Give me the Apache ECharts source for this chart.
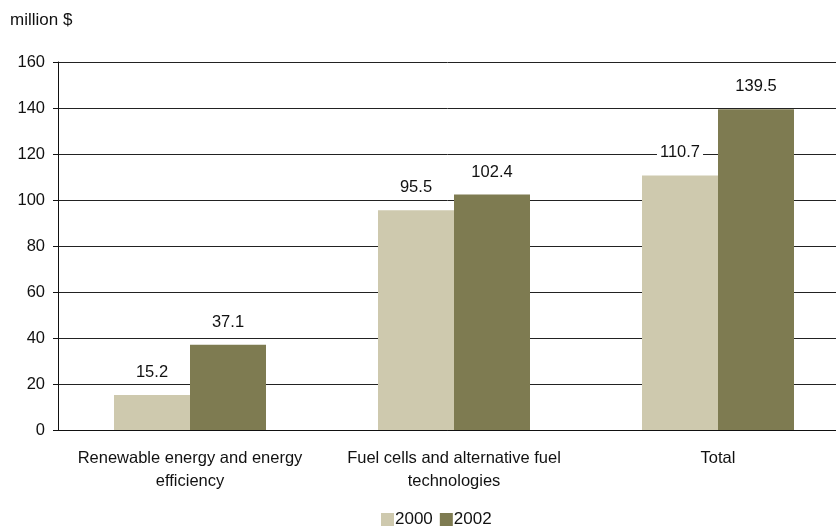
<!DOCTYPE html>
<html>
<head>
<meta charset="utf-8">
<script src="https://cdn.jsdelivr.net/npm/echarts@6/dist/echarts.min.js"></script>
<style>
  html, body { margin: 0; padding: 0; background: #fff; }
  #chart { width: 836px; height: 529px; }
</style>
</head>
<body>
<div id="chart"></div>
<script>
// Spending by program area, million $
const categories = [
  'Renewable energy and energy\nefficiency',
  'Fuel cells and alternative fuel\ntechnologies',
  'Total'
];
const values2000 = [15.2, 95.5, 110.7];
const values2002 = [37.1, 102.4, 139.5];
const yTicks = { min: 0, max: 160, interval: 20 };

const FONT = '"Liberation Sans", Arial, sans-serif';

const labelStyle = {
  show: true,
  position: 'top',
  distance: 12,
  color: '#111',
  fontFamily: FONT,
  fontSize: 16.5,
  backgroundColor: '#fff',
  padding: [2, 3],
  formatter: p => p.value.toFixed(1)
};

const chart = echarts.init(document.getElementById('chart'), null, { renderer: 'canvas' });
chart.setOption({
  animation: false,
  backgroundColor: '#fff',
  textStyle: { fontFamily: FONT },
  title: {
    text: 'million $',
    left: 10,
    top: 12,
    padding: 0,
    textStyle: { fontFamily: FONT, fontSize: 17, fontWeight: 'normal', color: '#111' }
  },
  // the plot runs a little past the right edge of the canvas
  grid: { left: 58, top: 62, width: 792, bottom: 99, containLabel: false, outerBoundsMode: 'none' },
  legend: {
    top: 511,
    left: 381,
    padding: 0,
    itemWidth: 13,
    itemHeight: 13,
    itemGap: 7,
    icon: 'rect',
    textStyle: { fontFamily: FONT, fontSize: 17, color: '#111', padding: [0, 0, 0, -4] },
    data: ['2000', '2002']
  },
  xAxis: {
    type: 'category',
    data: categories,
    axisLine: { lineStyle: { color: '#111', width: 1 } },
    axisTick: { show: false },
    axisLabel: {
      color: '#111',
      fontFamily: FONT,
      fontSize: 16.5,
      lineHeight: 23,
      margin: 17,
      interval: 0
    }
  },
  yAxis: {
    type: 'value',
    min: yTicks.min,
    max: yTicks.max,
    interval: yTicks.interval,
    axisLine: { show: true, lineStyle: { color: '#111', width: 1 } },
    axisTick: { show: true, length: 5, lineStyle: { color: '#111' } },
    axisLabel: { color: '#111', fontFamily: FONT, fontSize: 16.5, margin: 13 },
    splitLine: { show: true, lineStyle: { color: '#222', width: 1 } }
  },
  series: [
    {
      name: '2000',
      type: 'bar',
      data: values2000,
      barWidth: 76,
      barGap: '0%',
      itemStyle: { color: '#CEC9AE' },
      label: labelStyle
    },
    {
      name: '2002',
      type: 'bar',
      data: values2002,
      barWidth: 76,
      barGap: '0%',
      itemStyle: { color: '#7E7B51' },
      label: labelStyle
    }
  ]
});
</script>
</body>
</html>
